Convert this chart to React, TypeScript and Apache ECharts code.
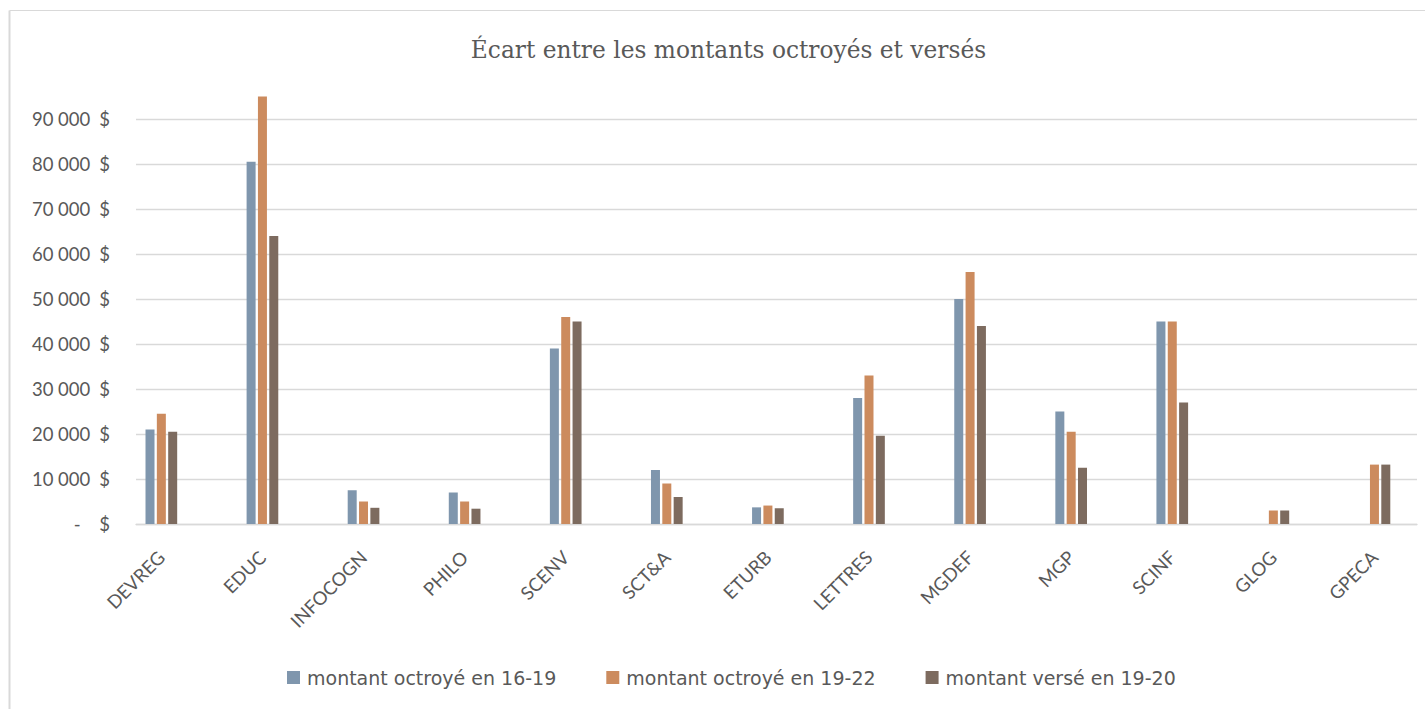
import React, { useEffect, useRef } from "react";
import * as echarts from "echarts";

const categories = ["DEVREG", "EDUC", "INFOCOGN", "PHILO", "SCENV", "SCT&A", "ETURB", "LETTRES", "MGDEF", "MGP", "SCINF", "GLOG", "GPECA"];
const seriesNames = ["montant octroyé en 16-19", "montant octroyé en 19-22", "montant versé en 19-20"];
const octroye1619 = [21000, 80500, 7500, 7000, 39000, 12000, 3700, 28000, 50000, 25000, 45000, null, null];
const octroye1922 = [24500, 95000, 5000, 5000, 46000, 9000, 4100, 33000, 56000, 20500, 45000, 3000, 13200];
const verse1920 = [20500, 64000, 3600, 3400, 45000, 6000, 3500, 19600, 44000, 12500, 27000, 3000, 13200];
const colors = ["#7f96ad", "#cc8b5e", "#7d6b5f"];
const yMin = 0;
const yMax = 90000;
const yStep = 10000;

const FONT = "Lato, 'Noto Sans', sans-serif";
const TEXT = "#595959";
const GRID_LINE = "#d9d9d9";

function fmt(v: number): string {
  if (v === 0) return "{z|-}{e|$}";
  const s = Math.round(v).toString().replace(/\B(?=(\d{3})+(?!\d))/g, " ");
  return `{n|${s}}{d|$}`;
}

export default function App() {
  const ref = useRef<HTMLDivElement>(null);
  useEffect(() => {
    if (!ref.current) return;
    const chart = echarts.init(ref.current, undefined, { renderer: "svg" });
    const gridTop = 119;
    const gridBottom = 709 - 524;
    const bandW = 102.4;
    const dataSets = [octroye1619, octroye1922, verse1920];
    const lbl = { fontFamily: FONT, fontSize: 18.5, color: TEXT };
    chart.setOption({
      animation: false,
      backgroundColor: "#ffffff",
      title: {
        text: "Écart entre les montants octroyés et versés",
        left: 723.5,
        top: 32.5,
        textAlign: "center",
        textStyle: { fontFamily: "'DejaVu Serif', serif", fontSize: 23.3, fontWeight: "normal", color: TEXT },
      },
      legend: {
        left: 282,
        top: 663,
        itemWidth: 13,
        itemHeight: 13,
        itemGap: 50,
        icon: "rect",
        data: seriesNames,
        textStyle: { fontFamily: "'DejaVu Sans', sans-serif", fontSize: 19, color: TEXT, padding: [0, 0, 0, 2] },
      },
      graphic: [
        { type: "line", shape: { x1: 9.5, y1: 10.5, x2: 1425, y2: 10.5 }, style: { stroke: GRID_LINE, lineWidth: 1 }, silent: true },
        { type: "line", shape: { x1: 9.5, y1: 10.5, x2: 9.5, y2: 709 }, style: { stroke: GRID_LINE, lineWidth: 2 }, silent: true },
      ],
      grid: [
        { left: 136, right: 1425 - 1417, top: gridTop, bottom: gridBottom, containLabel: false },
        { left: 162 - bandW / 2, width: bandW * categories.length, top: gridTop, bottom: gridBottom, containLabel: false },
      ],
      xAxis: [
        {
          gridIndex: 0,
          type: "category",
          data: categories,
          axisLine: { show: true, lineStyle: { color: GRID_LINE, width: 1.3 } },
          axisTick: { show: false },
          axisLabel: { show: false },
          splitLine: { show: false },
        },
        {
          gridIndex: 1,
          type: "category",
          data: categories,
          axisLine: { show: false },
          axisTick: { show: false },
          axisLabel: { rotate: 45, margin: 30, interval: 0, ...lbl },
          splitLine: { show: false },
        },
      ],
      yAxis: [
        {
          gridIndex: 0,
          type: "value",
          min: yMin,
          max: yMax,
          interval: yStep,
          axisLine: { show: false },
          axisTick: { show: false },
          splitLine: { show: true, lineStyle: { color: GRID_LINE, width: 1.3 } },
          axisLabel: {
            margin: 26,
            formatter: (v: number) => fmt(v),
            rich: {
              n: { ...lbl, width: 60, align: "right" },
              d: { ...lbl, width: 19.7, align: "right" },
              z: { ...lbl, width: 50.4, align: "right" },
              e: { ...lbl, width: 29.3, align: "right" },
            },
          },
        },
        {
          gridIndex: 1,
          type: "value",
          min: yMin,
          max: yMax,
          interval: yStep,
          show: false,
          splitLine: { show: false },
        },
      ],
      series: dataSets.map((d, i) => ({
        name: seriesNames[i],
        type: "bar",
        xAxisIndex: 1,
        yAxisIndex: 1,
        data: d.map((v) => (v === null ? "-" : v)),
        barWidth: 9,
        barGap: "26%",
        clip: false,
        itemStyle: { color: colors[i] },
      })),
    });
    return () => chart.dispose();
  }, []);
  return <div ref={ref} style={{ position: "absolute", left: 0, top: 0, width: 1425, height: 709 }} />;
}
